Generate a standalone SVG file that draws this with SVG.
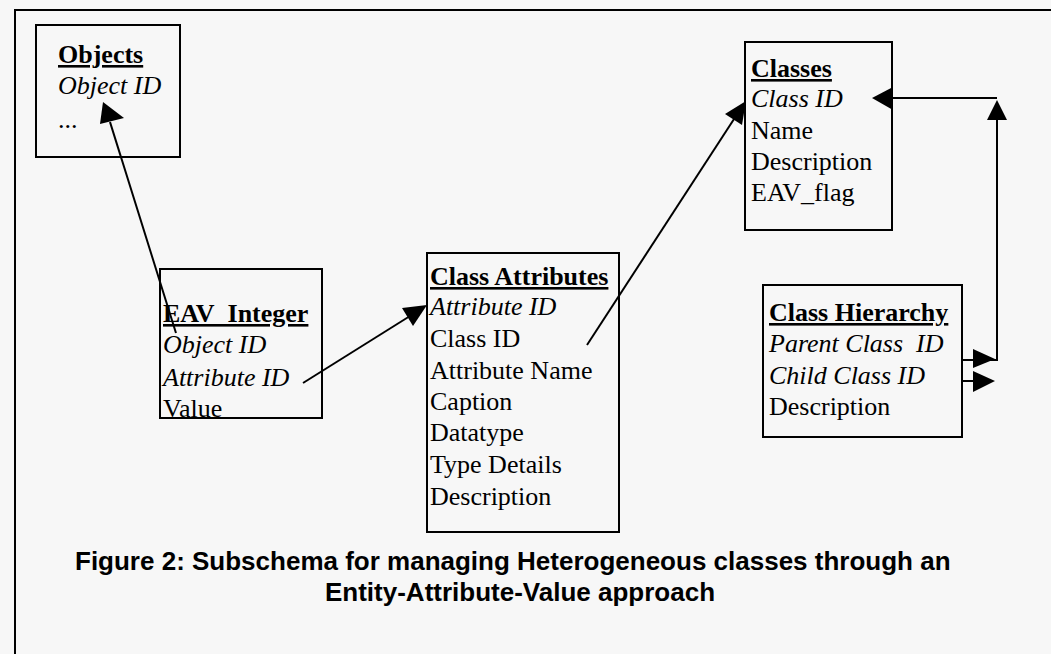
<svg xmlns="http://www.w3.org/2000/svg" width="1051" height="654" viewBox="0 0 1051 654">
<style>
.box{fill:#f7f7f7;stroke:#000;stroke-width:2}
.t{font-family:"Liberation Serif","Times New Roman",serif;font-size:26px;fill:#000}
.h{font-weight:bold;text-decoration:underline}
.i{font-style:italic}
.ln{fill:none;stroke:#000;stroke-width:2}
.ah{fill:#000;stroke:none}
.cap{font-family:"Liberation Sans",Arial,sans-serif;font-size:26px;font-weight:bold;fill:#000}
</style>
<rect x="0" y="0" width="1051" height="654" fill="#f7f7f7"/>
<path d="M15,654 V10 H1051" fill="none" stroke="#000" stroke-width="2"/>

<g id="objects">
<rect class="box" x="36" y="25" width="144" height="132"/>
<text class="t h" x="58" y="63">Objects</text>
<text class="t i" x="58" y="94">Object ID</text>
<text class="t" x="58" y="128">...</text>
</g>

<g id="eav-integer">
<rect class="box" x="160" y="269" width="162" height="149"/>
<text class="t h" x="163" y="322">EAV_Integer</text>
<text class="t i" x="163" y="353">Object ID</text>
<text class="t i" x="163" y="386">Attribute ID</text>
<text class="t" x="163" y="417">Value</text>
</g>

<g id="class-attributes">
<rect class="box" x="427" y="253" width="192" height="279"/>
<text class="t h" x="430" y="285">Class Attributes</text>
<text class="t i" x="430" y="315">Attribute ID</text>
<text class="t" x="430" y="347">Class ID</text>
<text class="t" x="430" y="379">Attribute Name</text>
<text class="t" x="430" y="410">Caption</text>
<text class="t" x="430" y="441">Datatype</text>
<text class="t" x="430" y="473">Type Details</text>
<text class="t" x="430" y="505">Description</text>
</g>

<g id="classes">
<rect class="box" x="745" y="42" width="147" height="188"/>
<text class="t h" x="751" y="77">Classes</text>
<text class="t i" x="751" y="107">Class ID</text>
<text class="t" x="751" y="139">Name</text>
<text class="t" x="751" y="170">Description</text>
<text class="t" x="751" y="201">EAV_flag</text>
</g>

<g id="class-hierarchy">
<rect class="box" x="763" y="285" width="199" height="152"/>
<text class="t h" x="769" y="321">Class Hierarchy</text>
<text class="t i" x="769" y="352" style="white-space:pre">Parent Class  ID</text>
<text class="t i" x="769" y="384">Child Class ID</text>
<text class="t" x="769" y="415">Description</text>
</g>

<g id="connectors">
<line class="ln" x1="176" y1="333" x2="110" y2="122"/>
<polygon class="ah" points="103,102 100,124 124,118"/>
<line class="ln" x1="303" y1="383" x2="410" y2="316"/>
<polygon class="ah" points="427,305 413,326 402,308"/>
<line class="ln" x1="587" y1="345" x2="736" y2="116"/>
<polygon class="ah" points="746,101 742,125 725,114"/>
<polyline class="ln" points="962,360 997,360 997,118"/>
<polyline class="ln" points="997,98 893,98"/>
<polygon class="ah" points="872,98 893,87 893,110"/>
<polygon class="ah" points="997,100 987,120 1007,120"/>
<polygon class="ah" points="995,359 973,349 973,368"/>
<line class="ln" x1="962" y1="381" x2="975" y2="381"/>
<polygon class="ah" points="995,381 973,371 973,392"/>
</g>

<g id="caption">
<text class="cap" x="75" y="570">Figure 2: Subschema for managing Heterogeneous classes through an</text>
<text class="cap" x="520" y="601" text-anchor="middle">Entity-Attribute-Value approach</text>
</g>
</svg>
